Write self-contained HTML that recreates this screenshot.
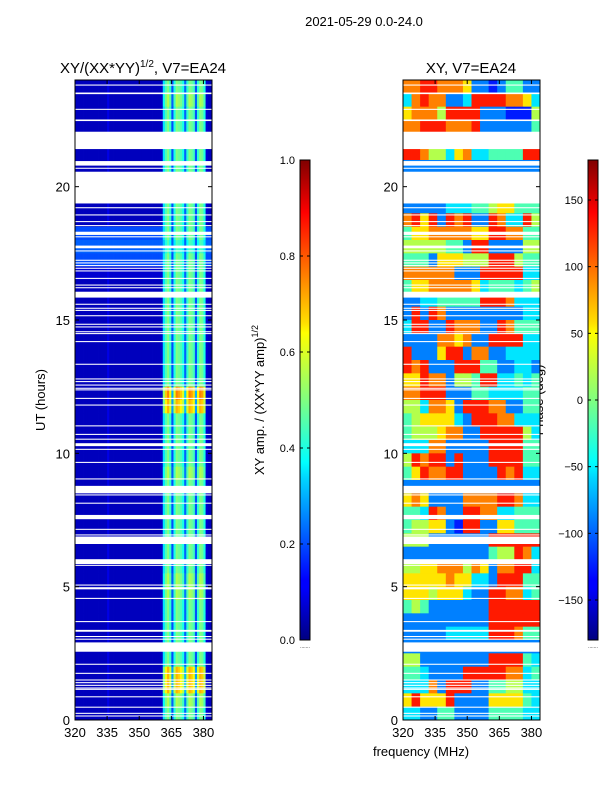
<!DOCTYPE html>
<html><head><meta charset="utf-8"><style>
body{margin:0;background:#fff;}
svg text{font-family:"Liberation Sans",sans-serif;fill:#000;}
</style></head><body>
<svg id="fig" width="600" height="800" viewBox="0 0 600 800" xmlns="http://www.w3.org/2000/svg">
<defs>
<linearGradient id="jet" x1="0" y1="1" x2="0" y2="0">
<stop offset="0" stop-color="#000080"/><stop offset="0.11" stop-color="#0000ff"/><stop offset="0.125" stop-color="#0000ff"/>
<stop offset="0.34" stop-color="#00d8ff"/><stop offset="0.37" stop-color="#0ff"/><stop offset="0.5" stop-color="#80ff80"/>
<stop offset="0.64" stop-color="#ff0"/><stop offset="0.66" stop-color="#ffe000"/><stop offset="0.89" stop-color="#f00"/><stop offset="1" stop-color="#800000"/>
</linearGradient>
</defs>
<text x="364" y="26" font-size="13" text-anchor="middle">2021-05-29 0.0-24.0</text>
<text x="143" y="73" font-size="15" text-anchor="middle">XY/(XX*YY)<tspan font-size="10" dy="-6">1/2</tspan><tspan dy="6">, V7=EA24</tspan></text>
<text x="471" y="73" font-size="15" text-anchor="middle">XY, V7=EA24</text>
<text x="0" y="0" font-size="13" text-anchor="middle" transform="translate(45,400) rotate(-90)">UT (hours)</text>
<text x="421" y="756" font-size="13" text-anchor="middle">frequency (MHz)</text>
<text x="0" y="0" font-size="13" text-anchor="middle" transform="translate(264,400) rotate(-90)">XY amp. / (XX*YY amp)<tspan font-size="9" dy="-6">1/2</tspan></text>
<text x="0" y="0" font-size="13" text-anchor="middle" transform="translate(543,400) rotate(-90)">Phase (deg)</text>
<g id="left"></g><g id="right"></g><g id="cb"></g>
</svg>
<script>
const freqs=[];for(let f=320;f<384;f++)freqs.push(f);
const colAmp=[0.06,0.06,0.06,0.06,0.06,0.06,0.06,0.06,0.06,0.06,0.06,0.06,0.06,0.06,0.06,0.1,0.06,0.06,0.06,0.06,0.06,0.06,0.06,0.06,0.06,0.06,0.06,0.06,0.06,0.06,0.06,0.06,0.06,0.06,0.06,0.06,0.06,0.06,0.06,0.06,0.07,0.35,0.45,0.5,0.42,0.2,0.4,0.5,0.48,0.45,0.4,0.22,0.42,0.5,0.48,0.44,0.2,0.42,0.5,0.48,0.4,0.08,0.06,0.06];
const rowScale=[1,1.1,1,1,1,1,1,1,1,1,1,1,0.9,1,1,1,1,1,1,1,1,1,1,1.5,1.4,1,1,1,1,1.1,1,1,1,1,1,1,1,1.1,1.1,1,1,1,1,1,1.4,1.4,1.1,1];
const rowBase=[0.05,0.05,0.05,0.05,0.05,0.05,0.06,0.05,0.05,0.05,0.05,0.2,0.22,0.2,0.08,0.05,0.05,0.05,0.05,0.05,0.05,0.05,0.05,0.05,0.05,0.05,0.05,0.05,0.05,0.05,0.05,0.05,0.05,0.05,0.05,0.05,0.05,0.05,0.05,0.05,0.05,0.05,0.05,0.05,0.05,0.05,0.05,0.05];
const phaseRows=["7788777622124422","3787722388887763","6777588882221115","7788877782222224","8875536733444488","8875536733444488","2222222222222222","2222222222222222","2222222222222222","2222233344566444","7868287822873385","4667777766887744","5555544288222255","4442666555888544","7777772228888833","4667777763444345","2233444448887333","2828722222222233","3882287772287444","2222776722888833","8222688277223333","8782228884422332","6687725548833434","7788822244333344","5537762888772244","4566663288877333","4555677228888853","3337722222888844","5878828222888844","4687788222287833","2222222222222222","6762222777788733","4438722887733444","4556621882266444","5552222222888888","2222222222455873","5566777576277883","6666676633288844","6665666322887734","4542222222888888","2222222222888888","2222233333888744","2222222222222222","5522222222888843","4432222888887734","3337288822445533","6866682222666643","3322442222444433"];
const gapStart=[23.79,23.47,22.88,22.46,21.41,20.79,20.67,19.37,19.19,18.92,18.67,18.52,18.19,18.1,17.69,17.57,17.22,17.12,17.02,16.92,16.82,16.54,16.29,16.19,15.84,15.57,15.42,15.34,15.14,14.82,14.72,14.54,14.47,14.17,13.32,12.77,12.67,12.54,12.42,12.36,12.04,11.79,11.01,10.69,10.51,10.27,10.13,9.64,9.02,8.5,8.42,8.11,7.53,7.13,6.92,6.6,5.85,5.78,5.04,4.9,4.54,3.67,3.31,3.11,3.01,2.56,2.07,1.73,1.48,1.38,1.28,1.18,1.13,0.85,0.46,0.23,0.13];
const gapEnd=[23.83,23.53,22.92,22.52,22.06,20.96,20.71,20.56,19.23,18.96,18.71,18.56,18.31,18.14,17.79,17.61,17.26,17.16,17.06,16.96,16.86,16.58,16.33,16.23,16.06,15.61,15.46,15.38,15.18,14.86,14.76,14.58,14.51,14.21,13.36,12.81,12.71,12.58,12.46,12.4,12.08,11.83,11.05,10.73,10.55,10.38,10.17,9.68,9.06,8.78,8.46,8.15,7.69,7.17,6.96,6.88,6.03,5.82,5.08,4.98,4.58,3.71,3.38,3.15,3.05,2.91,2.11,1.77,1.52,1.42,1.32,1.22,1.17,0.89,0.5,0.27,0.17];
const yTicks=[0,5,10,15,20];const xTicks=[320,335,350,365,380];
const ampTicks=["0.0","0.2","0.4","0.6","0.8","1.0"];const phaseTicks=["\u2212150","\u2212100","\u221250","0","50","100","150"];
const NS="http://www.w3.org/2000/svg";
const Y=h=>720-h*(640/24);
const clamp=v=>Math.max(0,Math.min(1,v));
function jet(v){v=clamp(v);const r=clamp(1.5-Math.abs(4*v-3)),g=clamp(1.5-Math.abs(4*v-2)),b=clamp(1.5-Math.abs(4*v-1));return `rgb(${Math.round(r*255)},${Math.round(g*255)},${Math.round(b*255)})`;}
function el(p,t,a){const e=document.createElementNS(NS,t);for(const k in a)e.setAttribute(k,a[k]);p.appendChild(e);return e;}
function panel(gid,x0,name,fill,ncols,cellFn){
 const g=document.getElementById(gid);
 const X=f=>x0+(f-320)*(137/64);
 const nrows=48,rh=640/nrows;
 for(let r=0;r<nrows;r++)for(let c=0;c<ncols;c++){
  const f0=320+c*64/ncols,f1=320+(c+1)*64/ncols;
  const rc=el(g,'rect',{x:X(f0),y:80+r*rh,width:X(f1)-X(f0)+0.4,height:rh+0.4,fill:cellFn(r,c)});
  
  
 }
 for(let i=0;i<gapStart.length;i++){
  const gp=el(g,'rect',{x:x0,y:Y(gapEnd[i]),width:137,height:Y(gapStart[i])-Y(gapEnd[i]),fill:'#fff'});
  
  
 }
 const fr=el(g,'rect',{x:x0,y:80,width:137,height:640,fill:'none',stroke:'#000','stroke-width':1});
 
 
 yTicks.forEach(h=>{
  el(g,'line',{x1:x0,x2:x0+4,y1:Y(h),y2:Y(h),stroke:'#000'});el(g,'line',{x1:x0+137,x2:x0+133,y1:Y(h),y2:Y(h),stroke:'#000'});
  const t=el(g,'text',{x:x0-5,y:Y(h)+5,'font-size':13,'text-anchor':'end'});t.textContent=h;
  
  
 });
 xTicks.forEach(f=>{
  el(g,'line',{x1:X(f),x2:X(f),y1:720,y2:716,stroke:'#000'});el(g,'line',{x1:X(f),x2:X(f),y1:80,y2:84,stroke:'#000'});
  const t=el(g,'text',{x:X(f),y:737,'font-size':13,'text-anchor':'middle'});t.textContent=f;
  
  
 });
}
panel('left',75,'amplitude-panel',null,64,(r,c)=>jet(Math.max(rowBase[r],colAmp[c]*(c>40&&c<61?rowScale[r]:1))));
panel('right',403,'phase-panel',null,16,(r,c)=>jet((+phaseRows[r][c]+0.5)/10));
function cbar(x,name,labels,vmin,vmax,vals){
 const g=document.getElementById('cb');
 const b=el(g,'rect',{x:x,y:160,width:10,height:480,fill:'url(#jet)',stroke:'#000','stroke-width':1});
 
 
 labels.forEach((l,i)=>{
  const y=640-(vals[i]-vmin)/(vmax-vmin)*480;
  el(g,'line',{x1:x,x2:x+3,y1:y,y2:y,stroke:'#000'});el(g,'line',{x1:x+10,x2:x+7,y1:y,y2:y,stroke:'#000'});
  const t=el(g,'text',{x:x-5,y:y+4,'font-size':11,'text-anchor':'end'});t.textContent=l;
  
  
 });
 const d=el(g,'text',{x:x+5,y:648,'font-size':5,'text-anchor':'middle',fill:'#888'});d.textContent='.......';
}
cbar(300,'amp-colorbar',ampTicks,0,1,[0,0.2,0.4,0.6,0.8,1]);
cbar(588,'phase-colorbar',phaseTicks,-180,180,[-150,-100,-50,0,50,100,150]);
</script>
</body></html>
